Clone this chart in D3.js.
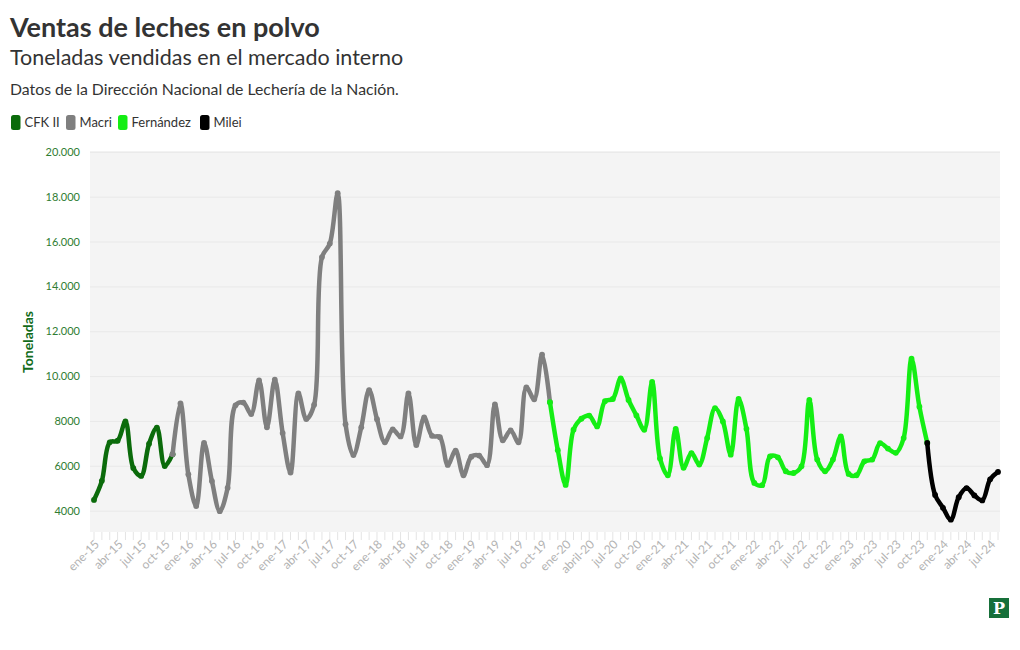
<!DOCTYPE html>
<html>
<head>
<meta charset="utf-8">
<script src="https://cdn.jsdelivr.net/npm/d3@7"></script>
<style>
  body { margin: 0; background: #fff; }
  text { font-family: Lato, 'Noto Sans', sans-serif; }
</style>
</head>
<body>
<svg id="chart" width="1020" height="650"></svg>
<script>
// meses: ene-15 .. ago-24
var nombresMes = ['ene', 'feb', 'mar', 'abr', 'may', 'jun', 'jul', 'ago', 'sep', 'oct', 'nov', 'dic'];
var anios = ['15', '16', '17', '18', '19', '20', '21', '22', '23', '24'];
var meses = [];
anios.forEach(function (a) {
  nombresMes.forEach(function (m) {
    meses.push(m + '-' + a);
  });
});
meses = meses.slice(0, 116);

// etiquetas del eje x (una cada 3 meses)
var etiquetasX = ['ene-15', 'abr-15', 'jul-15', 'oct-15', 'ene-16', 'abr-16', 'jul-16', 'oct-16',
  'ene-17', 'abr-17', 'jul-17', 'oct-17', 'ene-18', 'abr-18', 'jul-18', 'oct-18',
  'ene-19', 'abr-19', 'jul-19', 'oct-19', 'ene-20', 'abril-20', 'jul-20', 'oct-20',
  'ene-21', 'abr-21', 'jul-21', 'oct-21', 'ene-22', 'abr-22', 'jul-22', 'oct-22',
  'ene-23', 'abr-23', 'jul-23', 'oct-23', 'ene-24', 'abr-24', 'jul-24'];

var ticksY = [4000, 6000, 8000, 10000, 12000, 14000, 16000, 18000, 20000];

// toneladas por gobierno (cada serie arranca en el ultimo mes del anterior)
var cfk = [4500, 5350, 7070, 7140, 8000, 5920, 5570, 7000, 7720, 6010, 6540];
var macri = [6540, 8800, 5640, 4230, 7040, 5340, 4000, 5040, 8720, 8840, 8330, 9830,
  7740, 9860, 7480, 5720, 9250, 8110, 8740, 15330, 15930, 18180, 7880, 6500,
  7740, 9400, 8100, 7070, 7640, 7330, 9250, 6950, 8180, 7360, 7300, 6060,
  6700, 5600, 6430, 6480, 6050, 8760, 7160, 7600, 7070, 9520, 8990, 10980, 8860];
var fernandez = [8860, 6720, 5170, 7630, 8120, 8260, 7780, 8900, 9000, 9920, 8960, 8270,
  7630, 9760, 6350, 5600, 7670, 5930, 6590, 6080, 7260, 8590, 8000, 6520,
  9000, 7670, 5260, 5160, 6440, 6400, 5780, 5700, 6000, 8960, 6300, 5780,
  6300, 7330, 5660, 5600, 6220, 6300, 7030, 6790, 6600, 7260, 10800, 8660, 7040];
var milei = [7040, 4720, 4150, 3620, 4620, 5030, 4700, 4480, 5420, 5750];

var series = [
  { nombre: 'CFK II', color: '#0b6b0b', inicio: 0, valores: cfk },
  { nombre: 'Macri', color: '#7f7f7f', inicio: 10, valores: macri },
  { nombre: 'Fernández', color: '#14ee14', inicio: 58, valores: fernandez },
  { nombre: 'Milei', color: '#000000', inicio: 106, valores: milei },
];

function formatoTon(v) {
  return v >= 10000 ? d3.format(',')(v).replace(',', '.') : String(v);
}

var svg = d3.select('#chart');
var plotLeft = 90, plotRight = 1000, plotTop = 151, plotBottom = 532;

var x = d3.scalePoint().domain(meses).range([94, 998]);
var y = d3.scaleLinear().domain([3070, 20060]).range([plotBottom, plotTop]);

// titulos
svg.append('text').attr('x', 10).attr('y', 37)
  .attr('font-size', 27).attr('font-weight', 700).attr('fill', '#333')
  .text('Ventas de leches en polvo');
svg.append('text').attr('x', 10).attr('y', 65)
  .attr('font-size', 21.5).attr('fill', '#333')
  .text('Toneladas vendidas en el mercado interno');
svg.append('text').attr('x', 10).attr('y', 95)
  .attr('font-size', 15.8).attr('fill', '#333')
  .text('Datos de la Dirección Nacional de Lechería de la Nación.');

// leyenda
var legPos = [11, 66, 118, 200];
var leg = svg.append('g');
series.forEach(function (s, i) {
  var g = leg.append('g').attr('transform', 'translate(' + legPos[i] + ',115)');
  g.append('rect').attr('width', 9.5).attr('height', 15).attr('rx', 2.5).attr('fill', s.color);
  g.append('text').attr('x', 13.5).attr('y', 12).attr('font-size', 13).attr('fill', '#333').text(s.nombre);
});

// area del grafico
svg.append('rect').attr('x', plotLeft).attr('y', plotTop)
  .attr('width', plotRight - plotLeft).attr('height', plotBottom - plotTop)
  .attr('fill', '#f4f4f4');

svg.append('g').selectAll('line').data(ticksY).join('line')
  .attr('x1', plotLeft).attr('x2', plotRight)
  .attr('y1', function (d) { return y(d); }).attr('y2', function (d) { return y(d); })
  .attr('stroke', '#e8e8e8').attr('stroke-width', 1);

svg.append('g').selectAll('text').data(ticksY).join('text')
  .attr('x', 80).attr('y', function (d) { return y(d); })
  .attr('dy', '0.32em').attr('text-anchor', 'end')
  .attr('font-size', 11).attr('fill', '#2f7d32')
  .text(formatoTon);

svg.append('text')
  .attr('transform', 'translate(33,' + 342 + ') rotate(-90)')
  .attr('text-anchor', 'middle').attr('font-size', 14).attr('font-weight', 700).attr('fill', '#116b1a')
  .text('Toneladas');

// eje x
svg.append('g').selectAll('line').data(meses).join('line')
  .attr('x1', function (d) { return x(d); }).attr('x2', function (d) { return x(d); })
  .attr('y1', plotBottom).attr('y2', plotBottom + 8)
  .attr('stroke', '#e4e4e4').attr('stroke-width', 1);

svg.append('g').selectAll('text').data(etiquetasX).join('text')
  .attr('transform', function (d, i) {
    return 'translate(' + (x(meses[i * 3]) + 3) + ',' + (plotBottom + 10) + ') rotate(-45)';
  })
  .attr('text-anchor', 'end').attr('dy', '0.35em')
  .attr('font-size', 12).attr('fill', '#b3b3b3')
  .text(function (d) { return d; });

// lineas
var line = d3.line()
  .x(function (d) { return x(d.mes); })
  .y(function (d) { return y(d.v); })
  .curve(d3.curveCatmullRom.alpha(0.5));

series.forEach(function (s) {
  var pts = s.valores.map(function (v, i) { return { mes: meses[s.inicio + i], v: v }; });
  svg.append('path').datum(pts).attr('d', line)
    .attr('fill', 'none').attr('stroke', s.color).attr('stroke-width', 4.5)
    .attr('stroke-linejoin', 'round').attr('stroke-linecap', 'round');
  svg.append('g').selectAll('circle').data(pts).join('circle')
    .attr('cx', function (d) { return x(d.mes); })
    .attr('cy', function (d) { return y(d.v); })
    .attr('r', 2.9).attr('fill', s.color);
});

// logo
svg.append('rect').attr('x', 989).attr('y', 598).attr('width', 20).attr('height', 20).attr('fill', '#17703a');
svg.append('text').attr('x', 999).attr('y', 614).attr('text-anchor', 'middle')
  .attr('font-weight', 700).attr('font-size', 16).attr('fill', '#fff')
  .style('font-family', "'DejaVu Serif', serif")
  .text('P');
</script>
</body>
</html>
